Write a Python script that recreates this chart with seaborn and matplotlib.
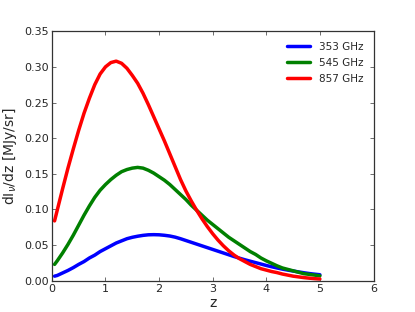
import numpy as np
import pandas as pd
import seaborn as sns
import matplotlib
matplotlib.use("Agg")
import matplotlib.pyplot as plt

z = [0.05, 0.1, 0.2, 0.3, 0.4, 0.5, 0.6, 0.7, 0.8, 0.9, 1.0,
     1.1, 1.2, 1.3, 1.4, 1.5, 1.6, 1.7, 1.8, 1.9, 2.0,
     2.1, 2.2, 2.3, 2.4, 2.5, 2.6, 2.7, 2.8, 2.9, 3.0,
     3.1, 3.2, 3.3, 3.4, 3.5, 3.6, 3.7, 3.8, 3.9, 4.0,
     4.1, 4.2, 4.3, 4.4, 4.5, 4.6, 4.7, 4.8, 4.9, 5.0]
dI_353 = [0.0065, 0.0075, 0.011, 0.0145, 0.0185, 0.023, 0.027, 0.032, 0.036, 0.041, 0.045,
          0.049, 0.053, 0.056, 0.059, 0.061, 0.0625, 0.0637, 0.0645, 0.0647, 0.0645,
          0.0638, 0.0628, 0.0612, 0.059, 0.0565, 0.054, 0.0515, 0.049, 0.0465, 0.044,
          0.0415, 0.039, 0.0365, 0.034, 0.0317, 0.0295, 0.0275, 0.0255, 0.0235, 0.0215,
          0.0197, 0.018, 0.0164, 0.015, 0.0137, 0.0125, 0.0113, 0.0102, 0.0093, 0.0085]
dI_545 = [0.023, 0.028, 0.039, 0.051, 0.064, 0.078, 0.092, 0.105, 0.117, 0.127, 0.135,
          0.142, 0.148, 0.153, 0.156, 0.158, 0.159, 0.158, 0.155, 0.151, 0.146,
          0.141, 0.135, 0.128, 0.121, 0.114, 0.106, 0.099, 0.092, 0.085, 0.079,
          0.073, 0.067, 0.061, 0.056, 0.051, 0.046, 0.041, 0.037, 0.032, 0.028,
          0.0245, 0.021, 0.018, 0.016, 0.014, 0.012, 0.010, 0.009, 0.008, 0.007]
dI_857 = [0.084, 0.099, 0.129, 0.158, 0.185, 0.211, 0.235, 0.256, 0.275, 0.290, 0.300,
          0.306, 0.308, 0.305, 0.298, 0.288, 0.277, 0.263, 0.247, 0.230, 0.213,
          0.196, 0.178, 0.160, 0.142, 0.126, 0.112, 0.099, 0.087, 0.076, 0.066,
          0.057, 0.049, 0.042, 0.036, 0.031, 0.027, 0.023, 0.020, 0.017, 0.015,
          0.013, 0.0115, 0.0095, 0.008, 0.0065, 0.0055, 0.0045, 0.0037, 0.003, 0.0025]
labels = ["353 GHz", "545 GHz", "857 GHz"]

df = pd.DataFrame({
    "z": z * 3,
    "dI": dI_353 + dI_545 + dI_857,
    "band": [labels[0]] * len(z) + [labels[1]] * len(z) + [labels[2]] * len(z),
})

sns.set_style("ticks")
plt.rcParams["font.family"] = ["DejaVu Sans"]
plt.rcParams["xtick.direction"] = "in"
plt.rcParams["ytick.direction"] = "in"
plt.rcParams["lines.solid_joinstyle"] = "round"

fig = plt.figure(figsize=(4.15, 3.12), dpi=100)
ax = fig.add_axes([0.125, 0.1, 0.775, 0.8])
sns.lineplot(data=df, x="z", y="dI", hue="band", palette=["#0000ff", "#008000", "#ff0000"],
             linewidth=2.5, ax=ax)

ax.set_xlim(0, 6)
ax.set_ylim(0, 0.35)
ax.set_xticks(range(0, 7))
ax.set_yticks(np.arange(0, 0.351, 0.05))
ax.yaxis.set_major_formatter(matplotlib.ticker.FormatStrFormatter("%.2f"))
ax.tick_params(top=True, right=True, labelsize=8, length=3, width=0.6, color="#555555", pad=2)
for s in ax.spines.values():
    s.set_linewidth(0.9)
    s.set_color("#333333")
ax.set_xlabel("z", fontsize=10, labelpad=2)
ax.set_ylabel(r"dI$_\nu$/dz [MJy/sr]", fontsize=10, labelpad=4)
ax.legend(loc="upper right", frameon=False, fontsize=7.5, handlelength=2.2,
          labelspacing=0.6, borderaxespad=0.6)

fig.savefig("out.png", dpi=100)
